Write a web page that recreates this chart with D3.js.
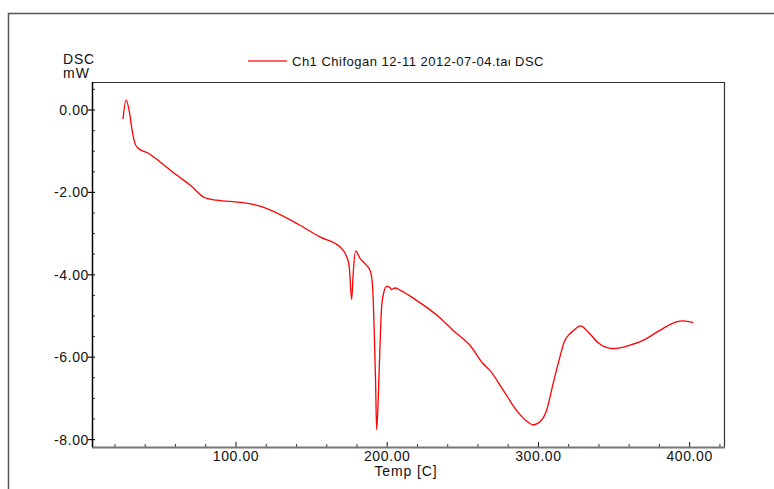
<!DOCTYPE html>
<html>
<head>
<meta charset="utf-8">
<script src="https://cdn.jsdelivr.net/npm/d3@7"></script>
<style>
  body { margin: 0; background: #fff; }
  text { font-family: "Liberation Sans", Arial, sans-serif; fill: #111; }
</style>
</head>
<body>
<div class="chart"></div>
<script>
const w = 774;
const h = 489;

// DSC trace
const temps = [25.3, 27.3, 29.5, 31.1, 33.2, 35.4, 42.0, 49.8, 60.8, 69.6, 79.5, 87.2, 102.6, 115.9, 142, 155.5,
  168.7, 173.2, 174.9, 176.5, 177.5, 179.1, 182, 185.3, 188.6, 189.7, 190.7, 191.4, 192.3, 193.0, 194.1, 195.2,
  196.3, 197.8, 199.6, 201.8, 202.9, 205.1, 208.4, 219.4, 234.8, 243.6, 254.7, 263.5, 267.9, 276.7, 285.5, 292.1,
  296.5, 302.0, 305.4, 309.7, 314.3, 317.0, 320.8, 323, 327.8, 332.9, 339.5, 343.9, 349.4, 360.4, 369.2, 380.2,
  391.3, 395.7, 402.3];
const dsc = [-0.22, 0.24, -0.04, -0.44, -0.81, -0.93, -1.05, -1.26, -1.58, -1.82, -2.13, -2.19, -2.24, -2.33, -2.79, -3.08,
  -3.32, -3.56, -3.81, -4.60, -3.97, -3.42, -3.60, -3.73, -3.89, -4.05, -4.54, -5.35, -6.56, -7.76, -6.97, -5.75,
  -4.78, -4.42, -4.28, -4.31, -4.36, -4.32, -4.37, -4.62, -5.04, -5.35, -5.71, -6.16, -6.32, -6.80, -7.29, -7.55,
  -7.64, -7.53, -7.29, -6.64, -5.98, -5.63, -5.43, -5.36, -5.24, -5.39, -5.65, -5.75, -5.79, -5.71, -5.59, -5.35,
  -5.14, -5.12, -5.16];

const xMajor = [100, 200, 300, 400];
const yMajor = [0, -2, -4, -6, -8];
const legendLabel = "Ch1 Chifogan 12-11 2012-07-04.tad";

const plot = { left: 92, top: 82, right: 724, bottom: 447 };
const fmt = (d) => d.toFixed(2);

const svg = d3.select(".chart").append("svg").attr("width", w).attr("height", h);

// outer frame
svg.append("path")
  .attr("d", `M8.5,${h} V13.5 H${w}`)
  .attr("fill", "none").attr("stroke", "#555").attr("stroke-width", 1.5);

const x = d3.scaleLinear().domain([4.8, 422.7]).range([plot.left, plot.right]);
const y = d3.scaleLinear().domain([-8.18, 0.68]).range([plot.bottom, plot.top]);

// plot box: top and right
svg.append("path")
  .attr("d", `M${plot.left},${plot.top + 0.5} H${plot.right + 0.5} V${plot.bottom}`)
  .attr("fill", "none").attr("stroke", "#333").attr("stroke-width", 1.2);

// x axis (ticks pointing up inside)
const xMinor = d3.range(20, 421, 20).filter((v) => !xMajor.includes(v));
svg.append("g").selectAll("line").data(xMinor).enter().append("line")
  .attr("x1", (d) => x(d)).attr("x2", (d) => x(d))
  .attr("y1", plot.bottom).attr("y2", plot.bottom - 3)
  .attr("stroke", "#333").attr("stroke-width", 1);
svg.append("g").selectAll("line").data(xMajor).enter().append("line")
  .attr("x1", (d) => x(d)).attr("x2", (d) => x(d))
  .attr("y1", plot.bottom).attr("y2", plot.bottom - 5)
  .attr("stroke", "#111").attr("stroke-width", 1);
svg.append("line")
  .attr("x1", plot.left).attr("x2", plot.right + 1)
  .attr("y1", plot.bottom + 0.5).attr("y2", plot.bottom + 0.5)
  .attr("stroke", "#777").attr("stroke-width", 2);
svg.append("g").selectAll("text").data(xMajor).enter().append("text")
  .attr("x", (d) => x(d)).attr("y", plot.bottom + 14)
  .attr("text-anchor", "middle")
  .style("font-size", "14px").style("letter-spacing", "0.6px")
  .text(fmt);
svg.append("text")
  .attr("x", 406).attr("y", 476)
  .attr("text-anchor", "middle")
  .style("font-size", "14px").style("letter-spacing", "0.9px")
  .text("Temp  [C]");

// y axis
const yMinor = d3.range(-8, 0.51, 0.5).filter((v) => !yMajor.includes(v));
svg.append("g").selectAll("line").data(yMinor).enter().append("line")
  .attr("x1", plot.left).attr("x2", plot.left + 3)
  .attr("y1", (d) => y(d)).attr("y2", (d) => y(d))
  .attr("stroke", "#333").attr("stroke-width", 1);
svg.append("g").selectAll("line").data(yMajor).enter().append("line")
  .attr("x1", plot.left - 4).attr("x2", plot.left + 3)
  .attr("y1", (d) => y(d)).attr("y2", (d) => y(d))
  .attr("stroke", "#111").attr("stroke-width", 1.2);
svg.append("line")
  .attr("x1", plot.left + 0.5).attr("x2", plot.left + 0.5)
  .attr("y1", plot.top).attr("y2", plot.bottom)
  .attr("stroke", "#000").attr("stroke-width", 1.5);
svg.append("g").selectAll("text").data(yMajor).enter().append("text")
  .attr("x", plot.left - 3).attr("y", (d) => y(d) + 5)
  .attr("text-anchor", "end")
  .style("font-size", "14px").style("letter-spacing", "0.6px")
  .text(fmt);
svg.append("text").attr("x", 63).attr("y", 64)
  .style("font-size", "14px").style("letter-spacing", "0.8px").text("DSC");
svg.append("text").attr("x", 63).attr("y", 78)
  .style("font-size", "14px").style("letter-spacing", "1.2px").text("mW");

// legend
svg.append("line")
  .attr("x1", 248).attr("x2", 287).attr("y1", 61).attr("y2", 61)
  .attr("stroke", "#ff3030").attr("stroke-width", 1.5);
svg.append("clipPath").attr("id", "legclip")
  .append("rect").attr("x", 280).attr("y", 40).attr("width", 230).attr("height", 40);
svg.append("text").attr("x", 292).attr("y", 65.5)
  .attr("clip-path", "url(#legclip)")
  .style("font-size", "13px").style("letter-spacing", "0.5px")
  .text(legendLabel);
svg.append("text").attr("x", 515).attr("y", 65.5)
  .style("font-size", "13px").style("letter-spacing", "0.5px")
  .text("DSC");

// trace
const line = d3.line()
  .x((d, i) => x(temps[i]))
  .y((d) => y(d))
  .curve(d3.curveMonotoneX);
svg.append("path")
  .datum(dsc)
  .attr("d", line)
  .attr("fill", "none")
  .attr("stroke", "#ff0000")
  .attr("stroke-width", 1.3);
</script>
</body>
</html>
